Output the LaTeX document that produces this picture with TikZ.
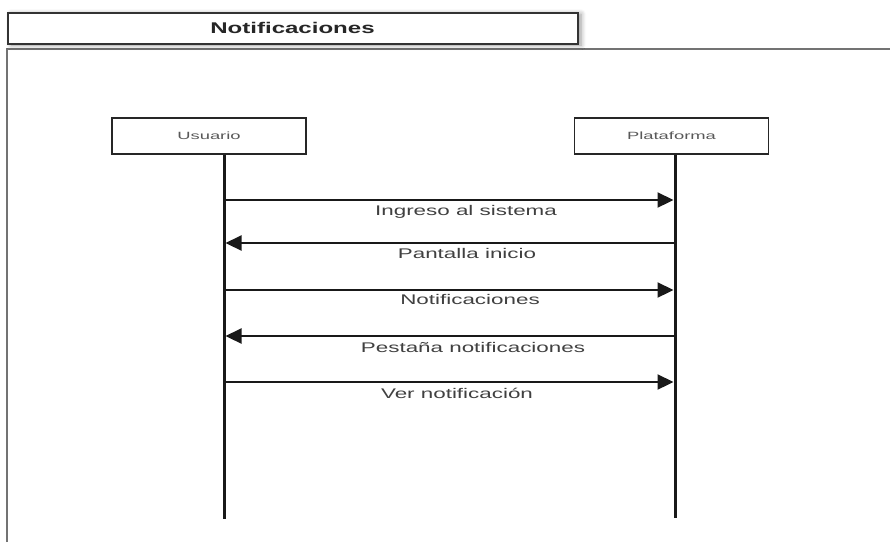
\documentclass[tikz,border=0pt]{standalone}
\usepackage{fontspec}
\setmainfont{Liberation Sans}
\usetikzlibrary{arrows.meta,shadows.blur}

\tikzset{
  titlebox/.style={draw=black!80, line width=2pt, fill=white, minimum width=570pt, minimum height=31pt,
    inner sep=0pt, blur shadow={shadow xshift=3pt, shadow yshift=-1pt, shadow blur steps=6, shadow blur radius=5pt}},
  actor/.style={draw=black!85, line width=1.5pt, fill=white, minimum width=194pt, minimum height=36pt,
    inner sep=0pt, text=black!65},
  lifeline/.style={line width=3pt, black!90},
  msg/.style={line width=2.2pt, black!90, -{Triangle[length=16pt, width=15pt]}},
  msglabel/.style={text=black!75, inner sep=0pt},
  frameline/.style={line width=2.5pt, black!55},
}

\begin{document}
\begin{tikzpicture}[x=1pt, y=-1pt]
  \useasboundingbox (0,0) rectangle (890,542);

  % outer frame
  \draw[frameline] (7,542) -- (7,49) -- (890,49);

  % diagram title
  \node[titlebox] (title) at (293,28.5) {};
  \node[inner sep=0pt, text=black!85] (titletext) at (292.5,28) {\fontsize{15.5}{17}\selectfont\bfseries\scalebox{1.55}[1]{Notificaciones}};

  % participants
  \node[actor] (u) at (209,136) {\fontsize{10.5}{12}\selectfont\scalebox{1.75}[1]{Usuario}};
  \node[actor] (p) at (671.5,136) {\fontsize{10.5}{12}\selectfont\scalebox{1.75}[1]{Plataforma}};

  % lifeline ends
  \coordinate (uend) at (224,519);
  \coordinate (pend) at (675,518);
  \draw[lifeline] (u.south -| uend) -- (uend);
  \draw[lifeline] (p.south -| pend) -- (pend);

  % message anchor points on the lifelines
  \foreach \i/\y in {1/200,2/243,3/290,4/336,5/382}{
    \coordinate (u\i) at (225.5,\y);
    \coordinate (p\i) at (673.5,\y);
  }

  % messages
  \draw[msg] (u1) -- (p1);
  \draw[msg] (p2) -- (u2);
  \draw[msg] (u3) -- (p3);
  \draw[msg] (p4) -- (u4);
  \draw[msg] (u5) -- (p5);

  % message labels
  \tikzset{every node/.append style={font=\fontsize{14}{16}\selectfont}}
  \node[msglabel] (l1) at (466,212) {\scalebox{1.6}[1]{Ingreso al sistema}};
  \node[msglabel] (l2) at (467,253) {\scalebox{1.6}[1]{Pantalla inicio}};
  \node[msglabel] (l3) at (470,299) {\scalebox{1.6}[1]{Notificaciones}};
  \node[msglabel] (l4) at (473,347) {\scalebox{1.6}[1]{Pestaña notificaciones}};
  \node[msglabel] (l5) at (457,393) {\scalebox{1.6}[1]{Ver notificación}};
\end{tikzpicture}
\end{document}
